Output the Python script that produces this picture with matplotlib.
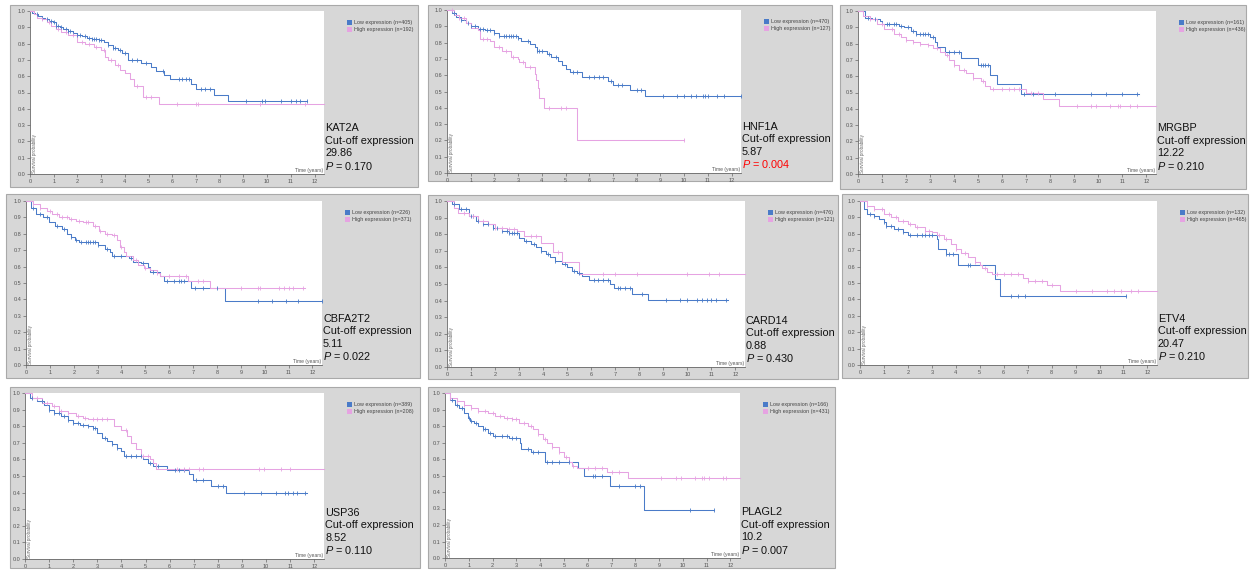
import numpy as np
import matplotlib
matplotlib.use("Agg")
import matplotlib.pyplot as plt
from matplotlib.patches import Rectangle, Patch

plt.rcParams['font.family'] = ['Liberation Sans', 'DejaVu Sans']
plt.rcParams['mathtext.fontset'] = 'custom'
plt.rcParams['mathtext.rm'] = 'Liberation Sans'
plt.rcParams['mathtext.it'] = 'Liberation Sans:italic'

# ---------------- data ----------------
genes = ["KAT2A", "HNF1A", "MRGBP", "CBFA2T2", "CARD14", "ETV4", "USP36", "PLAGL2"]
cutoffs = ["29.86", "5.87", "12.22", "5.11", "0.88", "20.47", "8.52", "10.2"]
pvalues = ["0.170", "0.004", "0.210", "0.022", "0.430", "0.210", "0.110", "0.007"]
p_significant_red = [False, True, False, False, False, False, False, False]
n_low = [405, 470, 161, 226, 476, 132, 389, 166]
n_high = [192, 127, 436, 371, 121, 465, 208, 431]
x_ticks = list(range(13))
y_ticks = [0.0, 0.1, 0.2, 0.3, 0.4, 0.5, 0.6, 0.7, 0.8, 0.9, 1.0]

# KAT2A
kat2a_low_t = [0, 0.1, 0.2, 0.35, 0.5, 0.65, 0.8, 0.95, 1.1, 1.25, 1.4, 1.6, 1.8, 2.0, 2.2, 2.4, 2.6, 2.9, 3.1, 3.3, 3.5, 3.7, 3.9, 4.15, 4.7, 5.1, 5.3, 5.65, 5.9, 6.8, 7.0, 7.75, 8.35]
kat2a_low_s = [1.0, 0.99, 0.98, 0.97, 0.96, 0.95, 0.94, 0.93, 0.91, 0.90, 0.89, 0.875, 0.865, 0.85, 0.845, 0.835, 0.83, 0.82, 0.81, 0.79, 0.775, 0.76, 0.74, 0.70, 0.68, 0.655, 0.63, 0.61, 0.585, 0.55, 0.52, 0.485, 0.445]
kat2a_low_end = 11.7
kat2a_low_cens = [0.3, 0.5, 0.7, 0.9, 1.0, 1.1, 1.2, 1.3, 1.5, 1.6, 1.7, 1.8, 2.0, 2.1, 2.3, 2.5, 2.6, 2.7, 2.8, 2.9, 3.0, 3.3, 3.5, 3.6, 3.8, 4.0, 4.3, 4.5, 4.9, 5.6, 6.3, 6.4, 6.6, 6.7, 7.2, 7.4, 7.6, 9.1, 9.8, 9.9, 10.6, 11.0, 11.2, 11.4, 11.7]
kat2a_high_t = [0, 0.15, 0.3, 0.5, 0.7, 0.9, 1.1, 1.3, 1.6, 2.0, 2.3, 2.7, 3.0, 3.15, 3.3, 3.6, 3.8, 4.0, 4.2, 4.4, 4.75, 5.45]
kat2a_high_s = [1.0, 0.98, 0.96, 0.95, 0.93, 0.91, 0.89, 0.87, 0.85, 0.81, 0.80, 0.78, 0.76, 0.72, 0.70, 0.67, 0.64, 0.62, 0.58, 0.54, 0.47, 0.43]
kat2a_high_end = 12.4
kat2a_high_cens = [0.5, 0.8, 1.2, 1.5, 1.8, 2.2, 2.5, 2.8, 3.1, 3.4, 3.7, 4.5, 4.9, 5.1, 6.2, 7.0, 7.1, 9.7, 11.6]

# HNF1A
hnf1a_low_t = [0, 0.2, 0.4, 0.6, 0.8, 1.0, 1.3, 1.6, 2.0, 2.2, 3.0, 3.1, 3.5, 3.7, 3.8, 4.2, 4.4, 4.7, 4.85, 5.0, 5.2, 5.7, 6.8, 7.0, 7.7, 8.35]
hnf1a_low_s = [1.0, 0.98, 0.96, 0.94, 0.92, 0.90, 0.885, 0.875, 0.86, 0.84, 0.83, 0.81, 0.79, 0.77, 0.75, 0.73, 0.71, 0.69, 0.665, 0.64, 0.62, 0.59, 0.565, 0.54, 0.51, 0.475]
hnf1a_low_end = 12.4
hnf1a_low_cens = [0.3, 0.6, 0.9, 1.0, 1.2, 1.4, 1.5, 1.7, 1.8, 2.0, 2.2, 2.4, 2.5, 2.6, 2.7, 2.8, 2.9, 3.0, 3.4, 3.8, 3.9, 4.0, 4.3, 4.6, 5.3, 5.5, 6.0, 6.2, 6.4, 6.6, 6.9, 7.2, 7.4, 8.0, 8.2, 9.1, 9.7, 10.0, 10.3, 10.5, 10.8, 10.9, 11.0, 11.4, 11.7, 12.4]
hnf1a_high_t = [0, 0.3, 0.5, 0.8, 1.0, 1.3, 1.4, 1.8, 2.0, 2.3, 2.7, 3.0, 3.05, 3.3, 3.7, 3.75, 3.85, 3.9, 4.1, 5.5]
hnf1a_high_s = [1.0, 0.97, 0.95, 0.92, 0.89, 0.88, 0.82, 0.81, 0.77, 0.75, 0.71, 0.70, 0.68, 0.65, 0.61, 0.57, 0.52, 0.46, 0.40, 0.20]
hnf1a_high_end = 10.0
hnf1a_high_cens = [0.2, 0.5, 0.7, 1.5, 1.7, 2.2, 2.5, 2.8, 3.2, 3.5, 4.3, 4.8, 5.0, 10.0]

# MRGBP
mrgbp_low_t = [0, 0.3, 0.6, 0.9, 1.0, 1.7, 1.9, 2.2, 2.4, 3.0, 3.2, 3.3, 3.6, 4.3, 5.0, 5.5, 5.8, 6.8]
mrgbp_low_s = [1.0, 0.96, 0.95, 0.94, 0.92, 0.91, 0.90, 0.88, 0.86, 0.84, 0.81, 0.78, 0.75, 0.71, 0.67, 0.61, 0.55, 0.49]
mrgbp_low_end = 11.7
mrgbp_low_cens = [0.4, 0.7, 1.2, 1.3, 1.5, 1.6, 1.8, 2.1, 2.3, 2.4, 2.6, 2.7, 2.8, 2.9, 3.1, 3.8, 4.0, 4.2, 5.1, 5.2, 5.3, 5.4, 6.9, 7.3, 8.2, 9.7, 10.3, 11.0, 11.6]
mrgbp_high_t = [0, 0.2, 0.5, 0.8, 1.1, 1.5, 1.8, 2.0, 2.3, 2.6, 2.9, 3.1, 3.4, 3.6, 3.8, 4.0, 4.2, 4.5, 4.8, 5.1, 5.3, 5.5, 7.0, 7.7, 8.35]
mrgbp_high_s = [1.0, 0.97, 0.95, 0.92, 0.89, 0.86, 0.84, 0.82, 0.81, 0.80, 0.79, 0.77, 0.75, 0.73, 0.70, 0.67, 0.64, 0.62, 0.59, 0.57, 0.54, 0.52, 0.50, 0.46, 0.42]
mrgbp_high_end = 12.4
mrgbp_high_cens = [0.5, 1.0, 1.4, 1.7, 2.0, 2.3, 2.6, 2.9, 3.3, 3.7, 4.0, 4.4, 4.8, 5.2, 5.6, 6.0, 6.3, 6.5, 6.7, 7.2, 7.5, 9.1, 9.7, 9.9, 10.5, 10.8, 10.9, 11.3, 11.6]

# CBFA2T2
cbfa2t2_low_t = [0, 0.2, 0.4, 0.7, 0.95, 1.2, 1.5, 1.7, 1.9, 2.05, 2.2, 3.0, 3.3, 3.5, 3.6, 4.3, 4.5, 4.8, 5.1, 5.2, 5.6, 5.8, 6.9, 8.35]
cbfa2t2_low_s = [1.0, 0.96, 0.92, 0.90, 0.87, 0.85, 0.83, 0.80, 0.78, 0.76, 0.75, 0.73, 0.71, 0.69, 0.665, 0.65, 0.63, 0.62, 0.60, 0.57, 0.54, 0.515, 0.47, 0.39]
cbfa2t2_low_end = 12.4
cbfa2t2_low_cens = [0.3, 0.6, 0.9, 1.3, 1.6, 1.9, 2.1, 2.3, 2.5, 2.6, 2.7, 2.8, 2.9, 3.0, 3.4, 3.7, 4.0, 4.4, 4.9, 5.3, 5.9, 6.2, 6.4, 6.5, 6.6, 7.1, 7.4, 8.0, 9.7, 10.3, 10.9, 11.4, 12.4]
cbfa2t2_high_t = [0, 0.3, 0.6, 0.9, 1.1, 1.4, 1.8, 2.1, 2.4, 2.8, 3.05, 3.3, 3.6, 3.8, 3.95, 4.1, 4.2, 4.5, 4.7, 4.95, 5.2, 5.5, 5.6, 6.8, 7.7]
cbfa2t2_high_s = [1.0, 0.98, 0.96, 0.94, 0.92, 0.90, 0.89, 0.88, 0.87, 0.85, 0.82, 0.80, 0.79, 0.76, 0.72, 0.69, 0.665, 0.64, 0.61, 0.59, 0.58, 0.56, 0.54, 0.51, 0.47]
cbfa2t2_high_end = 11.7
cbfa2t2_high_cens = [0.3, 0.6, 1.0, 1.3, 1.5, 1.7, 1.9, 2.2, 2.5, 2.6, 2.9, 3.1, 3.4, 3.7, 4.0, 4.6, 5.0, 5.5, 6.0, 6.4, 6.7, 7.2, 7.4, 9.0, 9.7, 9.8, 10.6, 10.8, 11.0, 11.2, 11.6]

# CARD14
card14_low_t = [0, 0.2, 0.5, 0.9, 1.2, 1.5, 1.9, 2.3, 2.6, 3.0, 3.2, 3.5, 3.7, 3.9, 4.1, 4.3, 4.5, 4.8, 5.0, 5.2, 5.4, 5.6, 5.9, 6.8, 6.95, 7.7, 8.35]
card14_low_s = [1.0, 0.98, 0.95, 0.91, 0.88, 0.86, 0.84, 0.82, 0.81, 0.78, 0.76, 0.74, 0.72, 0.70, 0.68, 0.66, 0.64, 0.62, 0.60, 0.58, 0.565, 0.55, 0.525, 0.50, 0.475, 0.44, 0.405]
card14_low_end = 11.7
card14_low_cens = [0.3, 0.6, 0.8, 1.0, 1.1, 1.3, 1.5, 1.7, 1.9, 2.1, 2.3, 2.5, 2.6, 2.7, 2.8, 2.9, 3.3, 3.6, 3.9, 4.2, 4.5, 4.9, 5.3, 5.5, 6.1, 6.3, 6.5, 6.7, 7.1, 7.2, 7.4, 7.6, 8.1, 9.1, 9.7, 10.0, 10.4, 10.6, 10.8, 11.0, 11.2, 11.6]
card14_high_t = [0, 0.3, 0.45, 0.9, 1.3, 1.7, 2.0, 2.5, 2.9, 3.2, 3.9, 4.4, 4.8, 5.5]
card14_high_s = [1.0, 0.96, 0.93, 0.91, 0.88, 0.86, 0.84, 0.83, 0.82, 0.79, 0.745, 0.69, 0.63, 0.56]
card14_high_end = 12.4
card14_high_cens = [0.7, 1.1, 1.5, 2.0, 2.3, 2.6, 2.8, 3.5, 3.7, 4.6, 6.5, 7.0, 7.9, 10.0, 10.9, 11.3]

# ETV4
etv4_low_t = [0, 0.15, 0.3, 0.6, 0.8, 1.0, 1.1, 1.4, 1.8, 2.0, 3.2, 3.25, 3.6, 4.1, 5.65, 5.85]
etv4_low_s = [1.0, 0.95, 0.92, 0.91, 0.89, 0.87, 0.85, 0.83, 0.81, 0.795, 0.77, 0.71, 0.675, 0.61, 0.525, 0.42]
etv4_low_end = 11.1
etv4_low_cens = [0.4, 0.6, 1.0, 1.1, 1.3, 1.6, 1.8, 2.1, 2.4, 2.6, 2.7, 2.9, 3.0, 3.6, 3.7, 3.9, 4.5, 4.6, 6.3, 6.6, 6.9, 11.1]
etv4_high_t = [0, 0.3, 0.6, 1.0, 1.3, 1.6, 2.0, 2.3, 2.7, 3.0, 3.2, 3.5, 3.8, 4.0, 4.2, 4.5, 4.8, 5.0, 5.1, 5.3, 5.5, 6.8, 7.0, 7.8, 8.35]
etv4_high_s = [1.0, 0.97, 0.95, 0.92, 0.90, 0.88, 0.86, 0.84, 0.82, 0.81, 0.79, 0.77, 0.74, 0.71, 0.68, 0.66, 0.63, 0.61, 0.59, 0.57, 0.555, 0.53, 0.51, 0.485, 0.45]
etv4_high_end = 12.4
etv4_high_cens = [0.3, 0.6, 0.9, 1.2, 1.5, 1.8, 2.1, 2.4, 2.7, 2.9, 3.3, 3.6, 4.0, 4.4, 4.8, 5.2, 5.7, 6.0, 6.3, 6.6, 7.0, 7.3, 7.6, 8.0, 9.0, 9.7, 10.3, 10.6, 10.9, 11.3, 11.6]

# USP36
usp36_low_t = [0, 0.2, 0.5, 0.8, 1.0, 1.2, 1.5, 1.8, 2.0, 2.3, 2.6, 2.8, 3.0, 3.2, 3.4, 3.6, 3.8, 4.0, 4.1, 4.9, 5.1, 5.3, 5.9, 6.8, 6.95, 7.7, 8.35]
usp36_low_s = [1.0, 0.97, 0.95, 0.93, 0.90, 0.88, 0.86, 0.84, 0.82, 0.81, 0.80, 0.79, 0.76, 0.73, 0.71, 0.69, 0.67, 0.65, 0.62, 0.60, 0.58, 0.56, 0.535, 0.51, 0.475, 0.44, 0.395]
usp36_low_end = 11.7
usp36_low_cens = [0.3, 0.7, 1.0, 1.2, 1.4, 1.6, 1.8, 2.0, 2.2, 2.4, 2.6, 2.8, 2.9, 3.3, 3.6, 3.8, 4.2, 4.4, 4.6, 4.8, 5.2, 5.5, 6.2, 6.4, 6.6, 7.1, 7.4, 8.0, 8.2, 9.1, 9.8, 10.4, 10.8, 10.9, 11.1, 11.3, 11.6]
usp36_high_t = [0, 0.3, 0.7, 1.1, 1.4, 1.8, 2.1, 2.4, 2.6, 3.7, 4.0, 4.25, 4.4, 4.6, 4.8, 5.2, 5.3, 5.45]
usp36_high_s = [1.0, 0.97, 0.94, 0.92, 0.89, 0.88, 0.86, 0.85, 0.845, 0.80, 0.78, 0.74, 0.70, 0.66, 0.62, 0.60, 0.58, 0.545]
usp36_high_end = 12.4
usp36_high_cens = [0.5, 0.9, 1.2, 1.5, 1.8, 2.2, 2.5, 2.8, 3.0, 3.2, 3.4, 4.2, 4.9, 5.1, 6.3, 6.6, 6.8, 7.2, 7.4, 9.7, 9.9, 10.6, 11.0]

# PLAGL2
plagl2_low_t = [0, 0.2, 0.4, 0.6, 0.8, 0.95, 1.05, 1.2, 1.4, 1.6, 1.8, 2.0, 2.7, 3.15, 3.2, 3.6, 4.2, 5.6, 5.85, 6.95, 8.35]
plagl2_low_s = [1.0, 0.96, 0.93, 0.91, 0.88, 0.85, 0.83, 0.82, 0.80, 0.78, 0.76, 0.74, 0.725, 0.70, 0.66, 0.64, 0.58, 0.545, 0.495, 0.435, 0.29]
plagl2_low_end = 11.3
plagl2_low_cens = [0.3, 0.5, 0.7, 1.0, 1.1, 1.3, 1.6, 1.7, 1.9, 2.1, 2.4, 2.6, 2.8, 3.0, 3.5, 3.7, 3.9, 4.3, 4.5, 4.8, 5.2, 6.2, 6.3, 6.6, 7.3, 8.0, 8.2, 10.3, 11.3]
plagl2_high_t = [0, 0.2, 0.5, 0.8, 1.1, 1.4, 1.8, 2.1, 2.5, 2.8, 3.1, 3.5, 3.7, 3.9, 4.1, 4.3, 4.5, 4.8, 5.0, 5.2, 5.35, 5.55, 6.8, 7.7]
plagl2_high_s = [1.0, 0.97, 0.95, 0.93, 0.91, 0.89, 0.88, 0.86, 0.85, 0.84, 0.82, 0.80, 0.78, 0.75, 0.72, 0.70, 0.67, 0.64, 0.61, 0.58, 0.56, 0.545, 0.52, 0.485]
plagl2_high_end = 12.4
plagl2_high_cens = [0.2, 0.5, 0.8, 1.1, 1.4, 1.7, 2.0, 2.3, 2.6, 2.8, 3.0, 3.3, 3.6, 3.9, 4.2, 4.5, 4.8, 5.1, 5.4, 6.0, 6.3, 6.6, 7.0, 7.3, 9.1, 9.7, 9.9, 10.5, 10.8, 10.9, 11.1, 11.7, 11.8]

low_curves = [
    (kat2a_low_t, kat2a_low_s, kat2a_low_end, kat2a_low_cens),
    (hnf1a_low_t, hnf1a_low_s, hnf1a_low_end, hnf1a_low_cens),
    (mrgbp_low_t, mrgbp_low_s, mrgbp_low_end, mrgbp_low_cens),
    (cbfa2t2_low_t, cbfa2t2_low_s, cbfa2t2_low_end, cbfa2t2_low_cens),
    (card14_low_t, card14_low_s, card14_low_end, card14_low_cens),
    (etv4_low_t, etv4_low_s, etv4_low_end, etv4_low_cens),
    (usp36_low_t, usp36_low_s, usp36_low_end, usp36_low_cens),
    (plagl2_low_t, plagl2_low_s, plagl2_low_end, plagl2_low_cens),
]
high_curves = [
    (kat2a_high_t, kat2a_high_s, kat2a_high_end, kat2a_high_cens),
    (hnf1a_high_t, hnf1a_high_s, hnf1a_high_end, hnf1a_high_cens),
    (mrgbp_high_t, mrgbp_high_s, mrgbp_high_end, mrgbp_high_cens),
    (cbfa2t2_high_t, cbfa2t2_high_s, cbfa2t2_high_end, cbfa2t2_high_cens),
    (card14_high_t, card14_high_s, card14_high_end, card14_high_cens),
    (etv4_high_t, etv4_high_s, etv4_high_end, etv4_high_cens),
    (usp36_high_t, usp36_high_s, usp36_high_end, usp36_high_cens),
    (plagl2_high_t, plagl2_high_s, plagl2_high_end, plagl2_high_cens),
]

# ---------------- layout (pixels) ----------------
W, H = 1251, 570
grey_boxes = [(10, 5, 418, 187), (428, 5, 832, 181), (840, 5, 1246, 189),
              (6, 194, 420, 378), (428, 195, 838, 379), (842, 194, 1248, 378),
              (10, 387, 420, 568), (428, 387, 835, 568)]
plot_boxes = [(30, 11, 324, 174), (447, 10, 741, 173), (858, 11, 1156, 174),
              (26, 201, 322, 365), (447, 201, 745, 367), (860, 201, 1157, 365),
              (25, 393, 324, 559), (445, 393, 740, 558)]

BLUE = '#4a7bc8'
PINK = '#e6a3e2'
GREY_BG = '#d7d7d7'

fig = plt.figure(figsize=(W / 100, H / 100), dpi=100)
fig.patch.set_facecolor('white')


def step_value(t, s, x):
    i = np.searchsorted(np.asarray(t), x, side='right') - 1
    return np.asarray(s)[np.clip(i, 0, len(s) - 1)]


def draw_curve(ax, curve, color):
    t, s, end, cens = curve
    tt = list(t) + [end]
    ss = list(s) + [s[-1]]
    ax.step(tt, ss, where='post', color=color, lw=0.75, clip_on=False, zorder=3)
    cy = step_value(t, s, np.asarray(cens))
    ax.plot(cens, cy, linestyle='none', marker='|', color=color,
            markersize=3.5, markeredgewidth=0.6, clip_on=False, zorder=4)


for k in range(len(genes)):
    gx0, gy0, gx1, gy1 = grey_boxes[k]
    fig.add_artist(Rectangle((gx0 / W, 1 - gy1 / H), (gx1 - gx0) / W, (gy1 - gy0) / H,
                             transform=fig.transFigure, facecolor=GREY_BG,
                             edgecolor='#a9a9a9', lw=0.8, zorder=-5))
    px0, py0, px1, py1 = plot_boxes[k]
    ax = fig.add_axes([px0 / W, 1 - py1 / H, (px1 - px0) / W, (py1 - py0) / H])
    ax.set_facecolor('white')
    ax.set_xlim(0, 12.4)
    ax.set_ylim(0, 1)
    for sp in ['top', 'right']:
        ax.spines[sp].set_visible(False)
    for sp in ['left', 'bottom']:
        ax.spines[sp].set_color('#666666')
        ax.spines[sp].set_linewidth(0.6)
    ax.set_xticks(x_ticks)
    ax.set_xticklabels([str(v) for v in x_ticks])
    ax.set_yticks(y_ticks)
    ax.set_yticklabels(['%.1f' % v for v in y_ticks])
    ax.tick_params(labelsize=4.0, length=2.5, width=0.5, color='#666666',
                   labelcolor='#555555', pad=1)

    draw_curve(ax, low_curves[k], BLUE)
    draw_curve(ax, high_curves[k], PINK)

    ax.text(0.008, 0.008, 'Survival probability', rotation=90, transform=ax.transAxes,
            fontsize=3.3, ha='left', va='bottom', color='#666666')
    ax.text(0.997, 0.006, 'Time (years)', transform=ax.transAxes,
            fontsize=3.6, ha='right', va='bottom', color='#555555')

    handles = [Patch(facecolor=BLUE, edgecolor='none'), Patch(facecolor=PINK, edgecolor='none')]
    labels = ['Low expression (n=%d)' % n_low[k], 'High expression (n=%d)' % n_high[k]]
    leg = ax.legend(handles, labels, loc='upper left',
                    bbox_to_anchor=((px1 + 23) / W, 1 - (py0 + 9) / H),
                    bbox_transform=fig.transFigure, fontsize=3.85, frameon=False,
                    handlelength=1.0, handleheight=1.0, handletextpad=0.3,
                    labelspacing=0.3, borderpad=0, borderaxespad=0)
    for txt in leg.get_texts():
        txt.set_color('#444444')

    lines = [genes[k], 'Cut-off expression', cutoffs[k]]
    tx = (px1 + 1) / W
    for j, line in enumerate(lines):
        yc = py1 - 8.5 - (3 - j) * 12.5
        fig.text(tx, 1 - yc / H, line, fontsize=7.8, ha='left', va='center', color='#111111')
    pcol = '#ff0000' if p_significant_red[k] else '#111111'
    fig.text(tx, 1 - (py1 - 8.5) / H, '$P$ = ' + pvalues[k], fontsize=7.8,
             ha='left', va='center', color=pcol)

fig.savefig('out.png', dpi=100, facecolor='white')
